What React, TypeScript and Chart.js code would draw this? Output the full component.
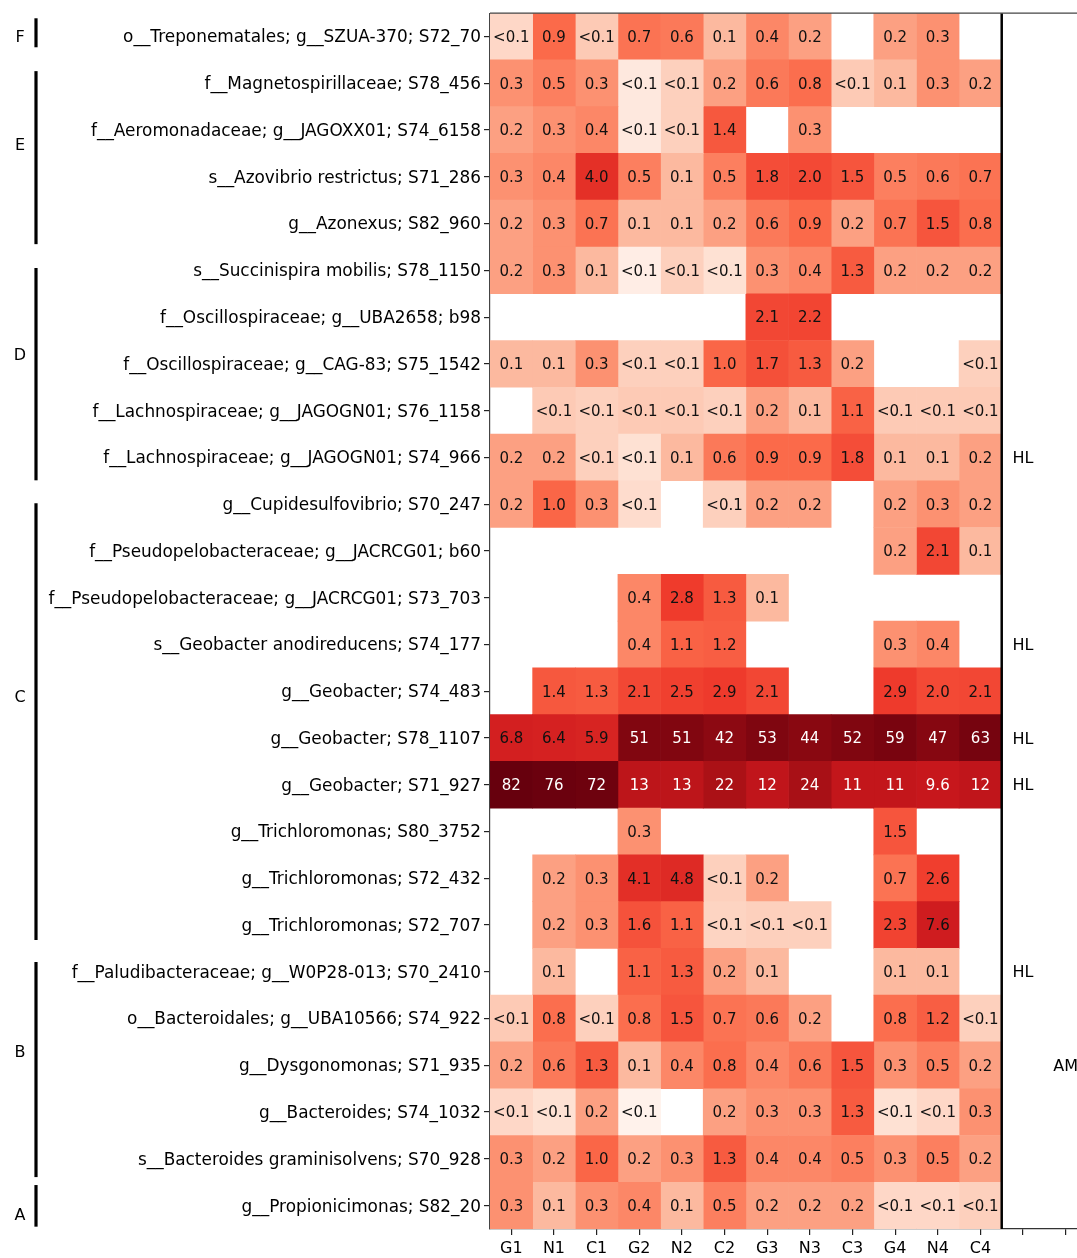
import React, { useEffect, useRef } from "react";
import { Chart, registerables } from "chart.js";

Chart.register(...registerables);

const rowLabels = [
  "o__Treponematales; g__SZUA-370; S72_70",
  "f__Magnetospirillaceae; S78_456",
  "f__Aeromonadaceae; g__JAGOXX01; S74_6158",
  "s__Azovibrio restrictus; S71_286",
  "g__Azonexus; S82_960",
  "s__Succinispira mobilis; S78_1150",
  "f__Oscillospiraceae; g__UBA2658; b98",
  "f__Oscillospiraceae; g__CAG-83; S75_1542",
  "f__Lachnospiraceae; g__JAGOGN01; S76_1158",
  "f__Lachnospiraceae; g__JAGOGN01; S74_966",
  "g__Cupidesulfovibrio; S70_247",
  "f__Pseudopelobacteraceae; g__JACRCG01; b60",
  "f__Pseudopelobacteraceae; g__JACRCG01; S73_703",
  "s__Geobacter anodireducens; S74_177",
  "g__Geobacter; S74_483",
  "g__Geobacter; S78_1107",
  "g__Geobacter; S71_927",
  "g__Trichloromonas; S80_3752",
  "g__Trichloromonas; S72_432",
  "g__Trichloromonas; S72_707",
  "f__Paludibacteraceae; g__W0P28-013; S70_2410",
  "o__Bacteroidales; g__UBA10566; S74_922",
  "g__Dysgonomonas; S71_935",
  "g__Bacteroides; S74_1032",
  "s__Bacteroides graminisolvens; S70_928",
  "g__Propionicimonas; S82_20",
];

const colLabels = ["G1", "N1", "C1", "G2", "N2", "C2", "G3", "N3", "C3", "G4", "N4", "C4"];
const extraColumns = 2;

// relative abundance (%) per row; null = absent; values < 0.1 are shown as "<0.1"
const _ = null;
const abundance: (number | null)[][] = [
  [0.04, 0.9, 0.06, 0.7, 0.6, 0.1, 0.4, 0.2, _, 0.2, 0.3, _],
  [0.3, 0.5, 0.3, 0.02, 0.05, 0.2, 0.6, 0.8, 0.06, 0.1, 0.3, 0.2],
  [0.2, 0.3, 0.4, 0.02, 0.05, 1.4, _, 0.3, _, _, _, _],
  [0.3, 0.4, 4.0, 0.5, 0.1, 0.5, 1.8, 2.0, 1.5, 0.5, 0.6, 0.7],
  [0.2, 0.3, 0.7, 0.1, 0.1, 0.2, 0.6, 0.9, 0.2, 0.7, 1.5, 0.8],
  [0.2, 0.3, 0.1, 0.015, 0.05, 0.03, 0.3, 0.4, 1.3, 0.2, 0.2, 0.2],
  [_, _, _, _, _, _, 2.1, 2.2, _, _, _, _],
  [0.1, 0.1, 0.3, 0.05, 0.05, 1.0, 1.7, 1.3, 0.2, _, _, 0.05],
  [_, 0.06, 0.05, 0.06, 0.06, 0.05, 0.2, 0.1, 1.1, 0.06, 0.06, 0.06],
  [0.2, 0.2, 0.05, 0.03, 0.1, 0.6, 0.9, 0.9, 1.8, 0.1, 0.1, 0.2],
  [0.2, 1.0, 0.3, 0.035, _, 0.05, 0.2, 0.2, _, 0.2, 0.3, 0.2],
  [_, _, _, _, _, _, _, _, _, 0.2, 2.1, 0.1],
  [_, _, _, 0.4, 2.8, 1.3, 0.1, _, _, _, _, _],
  [_, _, _, 0.4, 1.1, 1.2, _, _, _, 0.3, 0.4, _],
  [_, 1.4, 1.3, 2.1, 2.5, 2.9, 2.1, _, _, 2.9, 2.0, 2.1],
  [6.8, 6.4, 5.9, 51, 51, 42, 53, 44, 52, 59, 47, 63],
  [82, 76, 72, 13, 13, 22, 12, 24, 11, 11, 9.6, 12],
  [_, _, _, 0.3, _, _, _, _, _, 1.5, _, _],
  [_, 0.2, 0.3, 4.1, 4.8, 0.05, 0.2, _, _, 0.7, 2.6, _],
  [_, 0.2, 0.3, 1.6, 1.1, 0.045, 0.05, 0.05, _, 2.3, 7.6, _],
  [_, 0.1, _, 1.1, 1.3, 0.2, 0.1, _, _, 0.1, 0.1, _],
  [0.06, 0.8, 0.05, 0.8, 1.5, 0.7, 0.6, 0.2, _, 0.8, 1.2, 0.05],
  [0.2, 0.6, 1.3, 0.1, 0.4, 0.8, 0.4, 0.6, 1.5, 0.3, 0.5, 0.2],
  [0.04, 0.03, 0.2, 0.012, _, 0.2, 0.3, 0.3, 1.3, 0.03, 0.04, 0.3],
  [0.3, 0.2, 1.0, 0.2, 0.3, 1.3, 0.4, 0.4, 0.5, 0.3, 0.5, 0.2],
  [0.3, 0.1, 0.3, 0.4, 0.1, 0.5, 0.2, 0.2, 0.2, 0.04, 0.04, 0.05],
];

// annotations in the right-hand panel: row index, column slot, text
const sideRows = [9, 13, 15, 16, 20, 22];
const sideCols = [12, 12, 12, 12, 12, 13];
const sideTexts = ["HL", "HL", "HL", "HL", "HL", "AM"];

// group brackets on the far left (in row units)
const groupNames = ["F", "E", "D", "C", "B", "A"];
const groupTop = [-0.39, 0.74, 4.95, 9.98, 19.79, 24.56];
const groupBottom = [0.23, 4.44, 9.49, 19.32, 24.39, 25.45];
const groupLabelAt = [0.0, 2.32, 6.81, 14.12, 21.71, 25.2];

const REDS = ["#fff5f0", "#fee0d2", "#fcbba1", "#fc9272", "#fb6a4a", "#ef3b2c", "#cb181d", "#a50f15", "#67000d"];
const VMIN = 0.01;
const VMAX = 82;

function hexToRgb(h: string) {
  return [parseInt(h.slice(1, 3), 16), parseInt(h.slice(3, 5), 16), parseInt(h.slice(5, 7), 16)];
}

function redsColor(v: number) {
  let t = (Math.log10(v) - Math.log10(VMIN)) / (Math.log10(VMAX) - Math.log10(VMIN));
  t = Math.max(0, Math.min(1, t));
  const pos = t * (REDS.length - 1);
  const i = Math.min(REDS.length - 2, Math.floor(pos));
  const f = pos - i;
  const a = hexToRgb(REDS[i]);
  const b = hexToRgb(REDS[i + 1]);
  const c = a.map((x, k) => Math.round(x + (b[k] - x) * f));
  return `rgb(${c[0]},${c[1]},${c[2]})`;
}

function fmt(v: number) {
  if (v < 0.1) return "<0.1";
  if (v < 10) return v.toFixed(1);
  return v.toFixed(0);
}

const FONT = "'DejaVu Sans', sans-serif";

export default function App() {
  const ref = useRef<HTMLCanvasElement | null>(null);

  useEffect(() => {
    if (!ref.current) return;
    const nCols = colLabels.length;

    const datasets = colLabels.map((_c, j) => ({
      label: colLabels[j],
      data: abundance.map((row) => (row[j] == null ? null : [j - 0.5, j + 0.5])),
      backgroundColor: abundance.map((row) => (row[j] == null ? "rgba(0,0,0,0)" : redsColor(row[j] as number))),
      borderWidth: 0,
      barPercentage: 1,
      categoryPercentage: 1,
      grouped: false,
    }));

    const overlay = {
      id: "overlay",
      afterDatasetsDraw(chart: any) {
        const ctx = chart.ctx;
        const xs = chart.scales.x;
        const ys = chart.scales.y;
        const area = chart.chartArea;
        ctx.save();
        // cell labels
        ctx.font = `15px ${FONT}`;
        ctx.textAlign = "center";
        ctx.textBaseline = "middle";
        abundance.forEach((row, i) => {
          row.forEach((v, j) => {
            if (v == null) return;
            ctx.fillStyle = v >= 9 ? "#ffffff" : "#111111";
            ctx.fillText(fmt(v), xs.getPixelForValue(j), ys.getPixelForValue(i) + 1.5);
          });
        });
        // separator line
        const sx = xs.getPixelForValue(nCols - 0.5);
        ctx.strokeStyle = "#000";
        ctx.lineWidth = 2.5;
        ctx.beginPath();
        ctx.moveTo(sx, area.top);
        ctx.lineTo(sx, area.bottom);
        ctx.stroke();
        // top frame
        ctx.strokeStyle = "#444";
        ctx.lineWidth = 1.2;
        ctx.beginPath();
        ctx.moveTo(area.left, area.top);
        ctx.lineTo(area.right, area.top);
        ctx.stroke();
        // side labels
        ctx.fillStyle = "#000";
        ctx.font = `16px ${FONT}`;
        sideTexts.forEach((t, k) => {
          ctx.fillText(t, xs.getPixelForValue(sideCols[k]), ys.getPixelForValue(sideRows[k]) + 1.5);
        });
        // group brackets
        groupNames.forEach((g, k) => {
          const y0 = ys.getPixelForValue(groupTop[k]);
          const y1 = ys.getPixelForValue(groupBottom[k]);
          ctx.lineWidth = 3.2;
          ctx.strokeStyle = "#000";
          ctx.beginPath();
          ctx.moveTo(36, y0);
          ctx.lineTo(36, y1);
          ctx.stroke();
          ctx.fillText(g, 20, ys.getPixelForValue(groupLabelAt[k]) + 1);
        });
        ctx.restore();
      },
    };

    const chart = new Chart(ref.current, {
      type: "bar",
      data: { labels: rowLabels, datasets: datasets as any },
      options: {
        indexAxis: "y",
        animation: false,
        responsive: false,
        devicePixelRatio: 1,
        layout: { padding: { left: 0, top: 13, right: 13, bottom: 0 } },
        plugins: { legend: { display: false }, tooltip: { enabled: false } },
        scales: {
          x: {
            type: "linear",
            min: -0.5,
            max: nCols + extraColumns - 0.5,
            afterBuildTicks: (scale: any) => {
              const t = [];
              for (let k = 0; k < nCols + extraColumns; k++) t.push({ value: k });
              scale.ticks = t;
            },
            afterFit: (scale: any) => {
              scale.height = 29;
            },
            ticks: {
              autoSkip: false,
              maxRotation: 0,
              padding: 4,
              color: "#000",
              font: { family: FONT, size: 16 },
              callback: (v: any) => colLabels[v as number] ?? "",
            },
            grid: { drawOnChartArea: false, drawTicks: true, tickLength: 6, color: "#222", lineWidth: 1.2 },
            border: { display: true, color: "#333", width: 1.2 },
          },
          y: {
            type: "category",
            afterFit: (scale: any) => {
              scale.width = 490;
            },
            ticks: {
              autoSkip: false,
              padding: 3,
              labelOffset: 1.5,
              color: "#000",
              font: { family: FONT, size: 16.9 },
            },
            grid: { drawOnChartArea: false, drawTicks: true, tickLength: 6, offset: false, color: "#222", lineWidth: 1.2 },
            border: { display: true, color: "#444", width: 1.2 },
          },
        },
      },
      plugins: [overlay],
    });
    return () => chart.destroy();
  }, []);

  return (
    <div style={{ position: "absolute", left: 0, top: 0, width: 1077, height: 1258, overflow: "hidden", background: "#fff" }}>
      <canvas ref={ref} width={1100} height={1258} style={{ display: "block", width: 1100, height: 1258 }} />
    </div>
  );
}
